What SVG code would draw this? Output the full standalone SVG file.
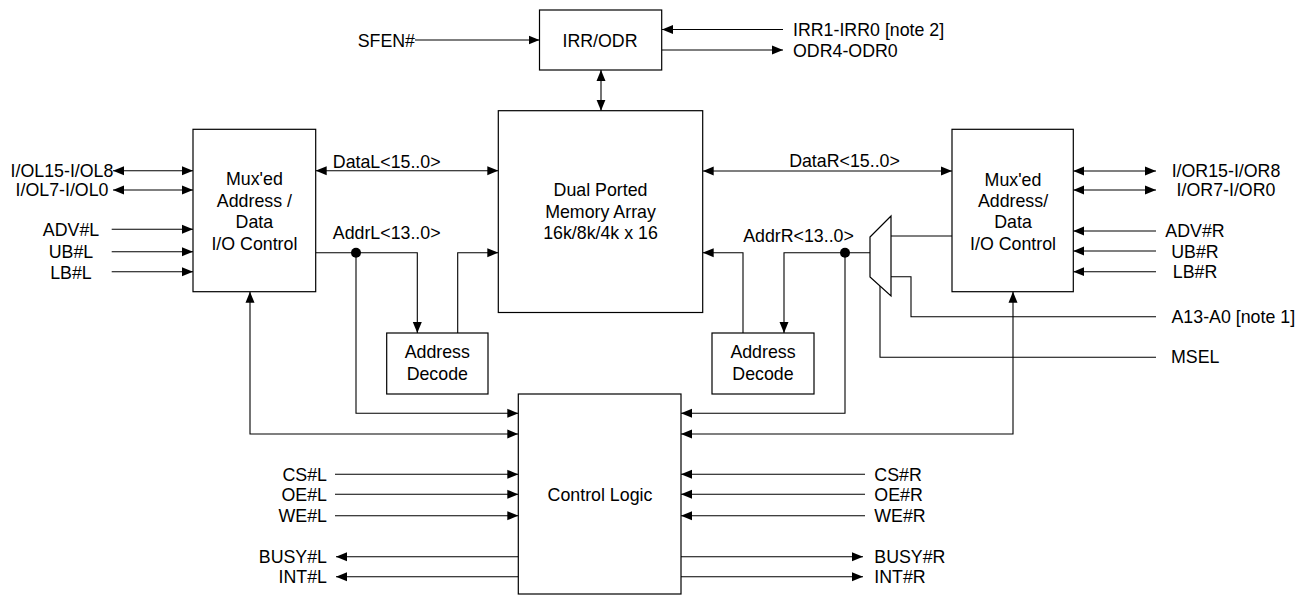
<svg xmlns="http://www.w3.org/2000/svg" width="1306" height="596" viewBox="0 0 1306 596">
<style>
.box{fill:#fff;stroke:#000;stroke-width:1.2}
.ln{fill:none;stroke:#000;stroke-width:1.1}
.a{marker-end:url(#ah)}
.b{marker-start:url(#ah);marker-end:url(#ah)}
text{font-family:"Liberation Sans",Arial,sans-serif;font-size:17.8px;fill:#000}
.m{text-anchor:middle}
.e{text-anchor:end}
</style>
<defs>
<marker id="ah" viewBox="0 0 11 10" refX="11" refY="5" markerWidth="11" markerHeight="10" markerUnits="userSpaceOnUse" orient="auto-start-reverse">
<path d="M0,0.5 L11,5 L0,9.5 z" fill="#000"/>
</marker>
</defs>
<rect width="1306" height="596" fill="#fff"/>
<g id="connectors">
<path class="ln a" d="M415,40 H539.5"/>
<path class="ln a" d="M783,29.5 H662"/>
<path class="ln a" d="M662,50 H783"/>
<path class="ln b" d="M601,70 V110.7"/>
<path class="ln b" d="M113,170.7 H193"/>
<path class="ln b" d="M113,190 H193"/>
<path class="ln a" d="M111.7,229.3 H193"/>
<path class="ln a" d="M111.7,251.7 H193"/>
<path class="ln a" d="M111.7,271.7 H193"/>
<path class="ln b" d="M315.7,170.7 H498.3"/>
<path class="ln a" d="M315.7,252.7 H417.3 V333"/>
<path class="ln a" d="M356,252.7 V413.3 H518.3"/>
<path class="ln a" d="M457.7,333 V252.7 H498.3"/>
<path class="ln b" d="M250,291.7 V434 H518.3"/>
<path class="ln b" d="M702.7,171 H952"/>
<path class="ln a" d="M870,252.7 H784 V333"/>
<path class="ln a" d="M845,252.7 V413.3 H681"/>
<path class="ln a" d="M743,333 V252.7 H702.7"/>
<path class="ln" d="M891,236 H952"/>
<path class="ln" d="M1156,316.7 H911 V276.7 H891"/>
<path class="ln" d="M1156,357.3 H880 V286"/>
<path class="ln b" d="M1013,291.7 V434 H681"/>
<path class="ln b" d="M1073.3,171 H1156"/>
<path class="ln b" d="M1073.3,190 H1156"/>
<path class="ln a" d="M1156,231 H1073.3"/>
<path class="ln a" d="M1156,251 H1073.3"/>
<path class="ln a" d="M1156,271.7 H1073.3"/>
<path class="ln a" d="M335,474.3 H518.3"/>
<path class="ln a" d="M335,494.3 H518.3"/>
<path class="ln a" d="M335,515.7 H518.3"/>
<path class="ln a" d="M518.3,556.7 H336"/>
<path class="ln a" d="M518.3,576.7 H336"/>
<path class="ln a" d="M865,474.3 H681"/>
<path class="ln a" d="M865,494.3 H681"/>
<path class="ln a" d="M865,515.7 H681"/>
<path class="ln a" d="M681,556.7 H863"/>
<path class="ln a" d="M681,576.7 H863"/>
<circle cx="356" cy="252.7" r="5" fill="#000"/>
<circle cx="845" cy="252.7" r="5" fill="#000"/>
<text class="e" x="415" y="46.5">SFEN#</text>
<text x="793" y="36">IRR1-IRR0 [note 2]</text>
<text x="793" y="57.3">ODR4-ODR0</text>
<text class="m" x="62" y="176.5">I/OL15-I/OL8</text>
<text class="m" x="62" y="196">I/OL7-I/OL0</text>
<text class="m" x="71" y="236">ADV#L</text>
<text class="m" x="71" y="257.7">UB#L</text>
<text class="m" x="71" y="279">LB#L</text>
<text class="m" x="386.7" y="167.7">DataL&lt;15..0&gt;</text>
<text class="m" x="386.7" y="239">AddrL&lt;13..0&gt;</text>
<text class="m" x="844.5" y="166.7">DataR&lt;15..0&gt;</text>
<text class="m" x="798.5" y="242">AddrR&lt;13..0&gt;</text>
<text class="m" x="1226" y="176.7">I/OR15-I/OR8</text>
<text class="m" x="1226" y="196">I/OR7-I/OR0</text>
<text class="m" x="1195" y="236.7">ADV#R</text>
<text class="m" x="1195" y="257.7">UB#R</text>
<text class="m" x="1195" y="278.3">LB#R</text>
<text x="1171.5" y="323.3">A13-A0 [note 1]</text>
<text x="1171" y="363.3">MSEL</text>
<text class="e" x="327" y="480.7">CS#L</text>
<text class="e" x="327" y="500.7">OE#L</text>
<text class="e" x="327" y="522">WE#L</text>
<text class="e" x="327" y="563">BUSY#L</text>
<text class="e" x="327" y="583">INT#L</text>
<text x="874.3" y="480.7">CS#R</text>
<text x="874.3" y="500.7">OE#R</text>
<text x="874.3" y="522">WE#R</text>
<text x="874.3" y="563">BUSY#R</text>
<text x="874.3" y="583">INT#R</text>
</g>
<g id="irr-odr">
<rect class="box" x="539.5" y="10" width="122.2" height="60"/>
<text class="m" x="600" y="46.7">IRR/ODR</text>
</g>
<g id="mux-left">
<rect class="box" x="193" y="129.3" width="122.7" height="162.4"/>
<text class="m" x="254.4" y="185">Mux'ed</text>
<text class="m" x="254.4" y="206.5">Address /</text>
<text class="m" x="254.4" y="227.5">Data</text>
<text class="m" x="254.4" y="250">I/O Control</text>
</g>
<g id="memory">
<rect class="box" x="498.3" y="110.7" width="204.4" height="201.8"/>
<text class="m" x="600.5" y="196">Dual Ported</text>
<text class="m" x="600.5" y="218">Memory Array</text>
<text class="m" x="600.5" y="239">16k/8k/4k x 16</text>
</g>
<g id="mux-right">
<rect class="box" x="952" y="129.3" width="121.3" height="162.4"/>
<text class="m" x="1013" y="186">Mux'ed</text>
<text class="m" x="1013" y="207">Address/</text>
<text class="m" x="1013" y="228">Data</text>
<text class="m" x="1013" y="250">I/O Control</text>
</g>
<g id="addr-mux">
<path class="box" d="M870,237 L891,216 L891,296 L870,277 z"/>
</g>
<g id="decode-left">
<rect class="box" x="386.7" y="333" width="101.3" height="61"/>
<text class="m" x="437.3" y="358.3">Address</text>
<text class="m" x="437.3" y="380">Decode</text>
</g>
<g id="decode-right">
<rect class="box" x="712" y="333" width="102" height="61"/>
<text class="m" x="763" y="358.3">Address</text>
<text class="m" x="763" y="380">Decode</text>
</g>
<g id="control">
<rect class="box" x="518.3" y="394" width="162.7" height="200"/>
<text class="m" x="600" y="501">Control Logic</text>
</g>
</svg>
